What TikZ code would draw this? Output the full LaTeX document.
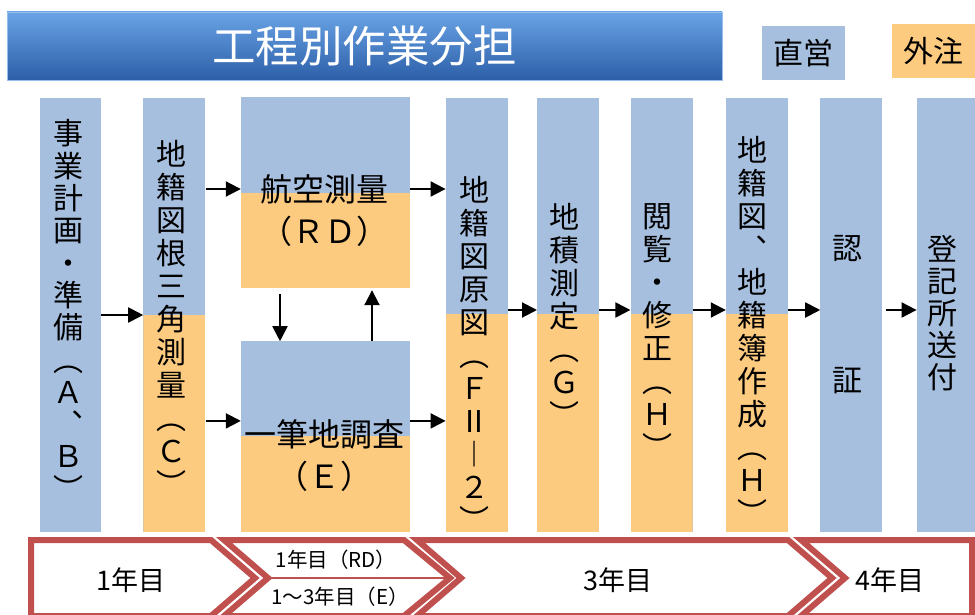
\documentclass[tikz,border=0pt]{standalone}
\usepackage{fontspec}
\setmainfont{Noto Sans CJK JP}
\usepackage{tikz}
\usetikzlibrary{positioning, arrows.meta}
\usepackage{xcolor}
\definecolor{chokuei}{HTML}{A7BFDE}
\definecolor{gaichu}{HTML}{FDCB80}
\definecolor{nendo}{HTML}{C0504D}
\definecolor{titletop}{HTML}{6AA3E6}
\definecolor{titlemid}{HTML}{3D7DCD}
\definecolor{titlebot}{HTML}{2C5FA8}
\tikzstyle{arrow} = [line width=2pt,-{Triangle[length=15pt,width=15pt]}]

\begin{document}
\begin{tikzpicture}[
    x=1pt, y=-1pt,
    colbox/.style={fill=chokuei, inner sep=0, minimum width=62pt, minimum height=434pt},
    split/.style={path picture={\fill[gaichu] (path picture bounding box.south west) rectangle ([yshift=#1]path picture bounding box.south east);}},
    vtext/.style={align=center, inner sep=0, font=\fontsize{30}{33}\selectfont},
    htext/.style={align=center, inner sep=0, font=\fontsize{32}{42}\selectfont},
    hanrei/.style={inner sep=0, minimum width=83pt, minimum height=54pt, font=\fontsize{30}{30}\selectfont},
    nenband/.style={draw=nendo, line width=6pt, fill=white, line join=miter},
    nentext/.style={inner sep=0, font=\fontsize{27}{27}\selectfont},
    nensmall/.style={inner sep=0, font=\fontsize{20.5}{20.5}\selectfont}
  ]
  \useasboundingbox (0,0) rectangle (975,615);
  \clip (0,0) rectangle (975,615);

  % title and legend
  \node[minimum width=715pt, minimum height=68pt, inner sep=0, top color=titletop, middle color=titlemid, bottom color=titlebot, draw=titletop!70!white, line width=0.8pt, text=white, font=\fontsize{43.5}{43.5}\selectfont] (title) at (364.5,46) {工程別作業分担};
  \node[hanrei, fill=chokuei] (chokuei) at (803,53) {直営};
  \node[hanrei, fill=gaichu] (gaichu) at (933.5,51) {外注};

  % columns
  \node[colbox, minimum width=61pt] (keikaku) at (70.5,315) {};
  \node[colbox, split=217pt, right=42pt of keikaku] (kijun) {};
  \node[colbox, split=95pt, minimum width=169pt, minimum height=191pt] (kouku) at (325.5,192.5) {};
  \node[colbox, split=96pt, minimum width=169pt, minimum height=191pt, below=53pt of kouku] (ippitsu) {};
  \node[colbox, split=218pt, right=240pt of kijun] (genzu) {};
  \node[colbox, split=218pt, right=29pt of genzu] (sekisoku) {};
  \node[colbox, split=218pt, right=31pt of sekisoku] (etsuran) {};
  \node[colbox, split=218pt, right=33pt of etsuran] (sakusei) {};
  \node[colbox, right=32pt of sakusei] (ninsho) {};
  \node[colbox, right=34pt of ninsho] (touki) {};

  % column texts
  \node[vtext, font=\fontsize{30}{32.3}\selectfont] (keikaku-t) at (68,310) {事\\業\\計\\画\\・\\準\\備\\︵\\Ａ\\︑\\Ｂ\\︶};
  \node[vtext] (kijun-t) at (171,318) {地\\籍\\図\\根\\三\\角\\測\\量\\︵\\Ｃ\\︶};
  \node[htext] (kouku-t) at (324,211) {航空測量\\（ＲＤ）};
  \node[htext] (ippitsu-t) at (324,456) {一筆地調査\\（Ｅ）};
  \node[vtext] (genzu-t) at (474,353.5) {地\\籍\\図\\原\\図\\︵\\Ｆ\\Ⅱ\\︱\\２\\︶};
  \node[vtext] (sekisoku-t) at (564,314.5) {地\\積\\測\\定\\︵\\Ｇ\\︶};
  \node[vtext] (etsuran-t) at (657,331.5) {閲\\覧\\・\\修\\正\\︵\\Ｈ\\︶};
  \node[vtext] (sakusei-t) at (752,330.5) {地\\籍\\図\\︑\\地\\籍\\簿\\作\\成\\︵\\Ｈ\\︶};
  \node[vtext] (ninsho-t) at (847,315) {認\\[99pt]証};
  \node[vtext, font=\fontsize{30}{32}\selectfont] (touki-t) at (942,313.5) {登\\記\\所\\送\\付};

  % arrows
  \coordinate (rdin) at ([yshift=3.5pt]kouku.west);
  \coordinate (rdout) at ([yshift=3.5pt]kouku.east);
  \coordinate (ein) at ([yshift=16pt]ippitsu.west);
  \coordinate (eout) at ([yshift=16pt]ippitsu.east);
  \draw[arrow] (keikaku.east) -- (kijun.west);
  \draw[arrow] (kijun.east |- rdin) -- (rdin);
  \draw[arrow] (kijun.east |- ein) -- (ein);
  \draw[arrow] ([xshift=-45.5pt,yshift=-6pt]kouku.south) -- ([xshift=-45.5pt]ippitsu.north);
  \draw[arrow] ([xshift=46.5pt]ippitsu.north) -- ([xshift=46.5pt,yshift=-2pt]kouku.south);
  \draw[arrow] (rdout) -- (genzu.west |- rdout);
  \draw[arrow] (eout) -- (genzu.west |- eout);
  \draw[arrow] ([yshift=5pt]genzu.east) -- ([yshift=5pt]sekisoku.west);
  \draw[arrow] ([yshift=5pt]sekisoku.east) -- ([yshift=5pt]etsuran.west);
  \draw[arrow] ([yshift=5pt]etsuran.east) -- ([yshift=5pt]sakusei.west);
  \draw[arrow] ([yshift=5pt]sakusei.east) -- ([yshift=5pt]ninsho.west);
  \draw[arrow] ([xshift=3pt,yshift=5pt]ninsho.east) -- ([yshift=5pt]touki.west);

  % year band
  \draw[nenband] (31,540) -- (211,540) -- (255,578) -- (211,616) -- (31,616) -- cycle;
  \draw[nenband] (224,540) -- (404,540) -- (450,578) -- (404,616) -- (224,616) -- (268,578) -- cycle;
  \draw[nenband] (417,540) -- (788,540) -- (832,578) -- (788,616) -- (417,616) -- (461,578) -- cycle;
  \draw[nenband] (801,540) -- (972,540) -- (972,616) -- (801,616) -- (845,578) -- cycle;
  \draw[nendo, line width=2pt] (268,578) -- (446,578);
  \node[nentext] (nen1) at (131,580) {1年目};
  \node[nensmall] (nen2a) at (336,560) {1年目（RD）};
  \node[nensmall] (nen2b) at (340,597) {1～3年目（E）};
  \node[nentext] (nen3) at (618,580) {3年目};
  \node[nentext] (nen4) at (890,580) {4年目};

\end{tikzpicture}
\end{document}
